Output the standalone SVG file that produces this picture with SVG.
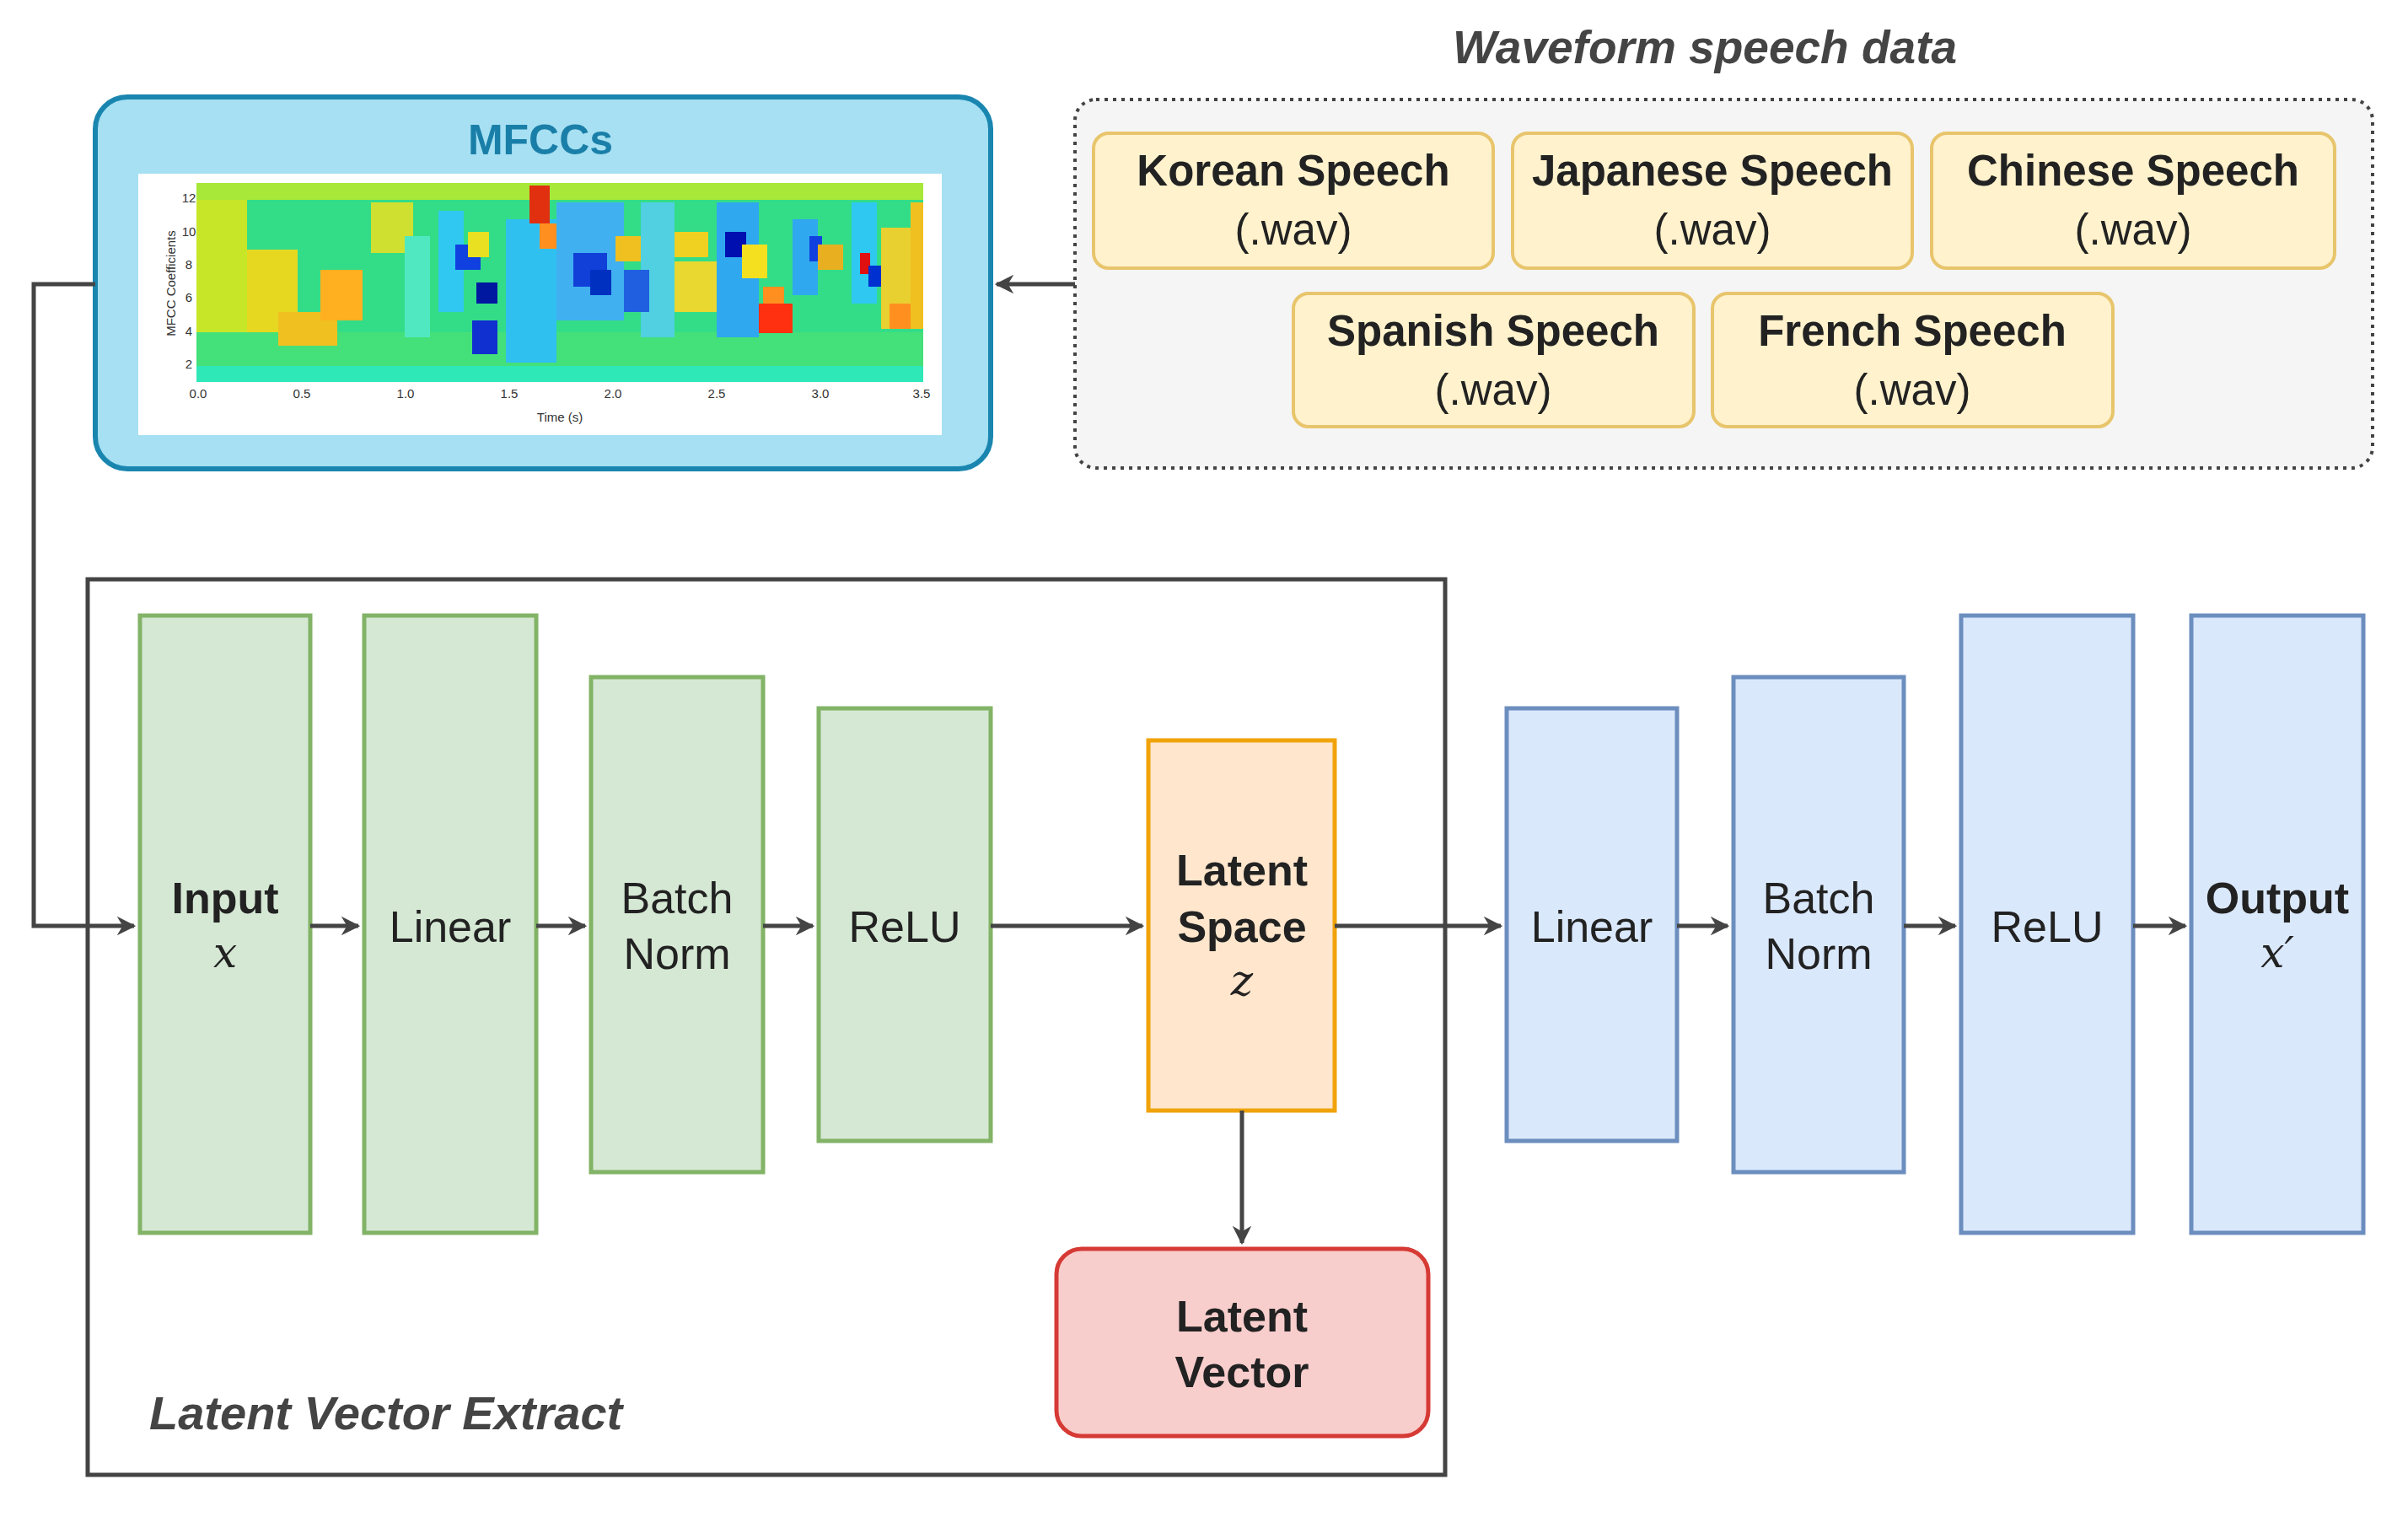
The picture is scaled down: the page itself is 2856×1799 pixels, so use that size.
<svg xmlns="http://www.w3.org/2000/svg" width="2856" height="1799" viewBox="0 0 2856 1799">
<style>
.t{font-family:"Liberation Sans",Arial,sans-serif;fill:#222;text-anchor:middle}
.b{font-weight:bold}
.y{fill:#fff2cc;stroke:#e8c56c;stroke-width:4}
.g{fill:#d5e8d4;stroke:#82b366;stroke-width:5}
.bl{fill:#dae8fc;stroke:#6c8ebf;stroke-width:5}
.m{font-family:"DejaVu Serif","Liberation Serif",serif;font-style:italic;fill:#222;text-anchor:middle}
.c{fill:none;stroke:#444;stroke-width:5}
.s{font-family:"Liberation Sans",Arial,sans-serif;fill:#333;font-size:15px;text-anchor:middle}
</style>
<defs><marker id="a" viewBox="0 0 10 10" refX="9" refY="5" markerWidth="4.5" markerHeight="4.5" orient="auto" markerUnits="strokeWidth"><path d="M0,0L10,5L0,10L3,5z" fill="#444"/></marker></defs>
<rect width="2856" height="1799" fill="#fff"/>
<g id="waveform">
<rect x="1275" y="118" width="1539" height="437" rx="25" fill="#f5f5f5" stroke="#444" stroke-width="4" stroke-dasharray="4 6"/>
<text x="2022" y="75" class="t" style="font-size:55px;font-weight:bold;font-style:italic;fill:#444">Waveform speech data</text>
</g>
<g id="korean"><rect class="y" x="1297" y="158" width="474" height="160" rx="18"/><text class="t" x="1534" y="220" font-size="51"><tspan class="b">Korean Speech</tspan><tspan x="1534" y="290">(.wav)</tspan></text></g>
<g id="japanese"><rect class="y" x="1794" y="158" width="474" height="160" rx="18"/><text class="t" x="2031" y="220" font-size="51"><tspan class="b">Japanese Speech</tspan><tspan x="2031" y="290">(.wav)</tspan></text></g>
<g id="chinese"><rect class="y" x="2291" y="158" width="478" height="160" rx="18"/><text class="t" x="2530" y="220" font-size="51"><tspan class="b">Chinese Speech</tspan><tspan x="2530" y="290">(.wav)</tspan></text></g>
<g id="spanish"><rect class="y" x="1534" y="348" width="475" height="158" rx="18"/><text class="t" x="1771" y="410" font-size="51"><tspan class="b">Spanish Speech</tspan><tspan x="1771" y="480">(.wav)</tspan></text></g>
<g id="french"><rect class="y" x="2031" y="348" width="475" height="158" rx="18"/><text class="t" x="2268" y="410" font-size="51"><tspan class="b">French Speech</tspan><tspan x="2268" y="480">(.wav)</tspan></text></g>
<g id="mfcc">
<rect x="113" y="115" width="1062" height="441" rx="38" fill="#a6e0f2" stroke="#1a86b0" stroke-width="6"/>
<text class="t b" x="641" y="183" font-size="50" style="fill:#1a7fa8">MFCCs</text>
<rect x="164" y="206" width="953" height="310" fill="#fff"/>
<rect x="233" y="217" width="862" height="236" fill="#33dd88"/>
<g>
<rect x="233" y="217" width="862" height="20" fill="#a8e838"/>
<rect x="233" y="394" width="862" height="40" fill="#44e07a"/>
<rect x="233" y="434" width="862" height="19" fill="#2ee8b8"/>
<rect x="233" y="237" width="60" height="157" fill="#c8e628"/>
<rect x="293" y="296" width="60" height="98" fill="#e6d820"/>
<rect x="330" y="370" width="70" height="40" fill="#f0c020"/>
<rect x="380" y="320" width="50" height="60" fill="#ffb020"/>
<rect x="440" y="240" width="50" height="60" fill="#d0e030"/>
<rect x="480" y="280" width="30" height="120" fill="#50e8c0"/>
<rect x="520" y="250" width="30" height="120" fill="#30c8f0"/>
<rect x="540" y="290" width="30" height="30" fill="#1040e0"/>
<rect x="560" y="380" width="30" height="40" fill="#1030d0"/>
<rect x="565" y="335" width="25" height="25" fill="#0018a0"/>
<rect x="600" y="300" width="20" height="40" fill="#ff8020"/>
<rect x="555" y="275" width="25" height="30" fill="#e8e020"/>
<rect x="600" y="260" width="60" height="170" fill="#30c0f0"/>
<rect x="628" y="220" width="24" height="45" fill="#e03010"/>
<rect x="640" y="265" width="20" height="30" fill="#ff9020"/>
<rect x="660" y="240" width="80" height="140" fill="#40b0f0"/>
<rect x="680" y="300" width="40" height="40" fill="#1040d8"/>
<rect x="700" y="320" width="25" height="30" fill="#0030c0"/>
<rect x="730" y="280" width="30" height="30" fill="#f0c020"/>
<rect x="760" y="240" width="40" height="160" fill="#50d0e0"/>
<rect x="740" y="320" width="30" height="50" fill="#2060e0"/>
<rect x="800" y="275" width="40" height="30" fill="#f0d020"/>
<rect x="800" y="310" width="50" height="60" fill="#e8d830"/>
<rect x="850" y="240" width="50" height="160" fill="#30a8f0"/>
<rect x="860" y="275" width="25" height="30" fill="#0010b0"/>
<rect x="880" y="290" width="30" height="40" fill="#f5e020"/>
<rect x="905" y="340" width="25" height="30" fill="#ff9020"/>
<rect x="900" y="360" width="40" height="35" fill="#ff3010"/>
<rect x="940" y="260" width="30" height="90" fill="#30a8f0"/>
<rect x="960" y="280" width="15" height="30" fill="#1040e0"/>
<rect x="970" y="290" width="30" height="30" fill="#e8b020"/>
<rect x="1010" y="240" width="30" height="120" fill="#2ec8f0"/>
<rect x="1020" y="300" width="12" height="25" fill="#e01010"/>
<rect x="1030" y="315" width="15" height="25" fill="#0030d0"/>
<rect x="1045" y="270" width="35" height="120" fill="#e8d030"/>
<rect x="1055" y="360" width="30" height="30" fill="#ff9020"/>
<rect x="1080" y="240" width="15" height="150" fill="#f0c020"/>
</g>
<text class="s" x="208" y="336" transform="rotate(-90 208 336)" font-size="17">MFCC Coefficients</text>
<text class="s" x="224" y="240">12</text><text class="s" x="224" y="280">10</text><text class="s" x="224" y="319">8</text><text class="s" x="224" y="358">6</text><text class="s" x="224" y="398">4</text><text class="s" x="224" y="437">2</text>
<text class="s" x="235" y="472">0.0</text><text class="s" x="358" y="472">0.5</text><text class="s" x="481" y="472">1.0</text><text class="s" x="604" y="472">1.5</text><text class="s" x="727" y="472">2.0</text><text class="s" x="850" y="472">2.5</text><text class="s" x="973" y="472">3.0</text><text class="s" x="1093" y="472">3.5</text>
<text class="s" x="664" y="500" font-size="24">Time (s)</text>
</g>
<g id="extract-box"><rect x="104" y="687" width="1610" height="1062" fill="none" stroke="#444" stroke-width="5"/>
<text class="t" x="177" y="1695" font-size="56" style="text-anchor:start;font-weight:bold;font-style:italic;fill:#444">Latent Vector Extract</text></g>
<g id="input"><rect class="g" x="166" y="730" width="202" height="732"/><text class="t b" x="267" y="1083" font-size="52">Input</text><text class="m" x="267" y="1147" font-size="50">x</text></g>
<g id="linear1"><rect class="g" x="432" y="730" width="204" height="732"/><text class="t" x="534" y="1117" font-size="52">Linear</text></g>
<g id="bn1"><rect class="g" x="701" y="803" width="204" height="587"/><text class="t" x="803" y="1083" font-size="52">Batch<tspan x="803" y="1149">Norm</tspan></text></g>
<g id="relu1"><rect class="g" x="971" y="840" width="204" height="513"/><text class="t" x="1073" y="1117" font-size="52">ReLU</text></g>
<g id="latent-space"><rect x="1362" y="878" width="221" height="439" fill="#ffe6cc" stroke="#f0a30a" stroke-width="5"/><text class="t b" x="1473" y="1050" font-size="52">Latent<tspan x="1473" y="1117">Space</tspan></text><text class="m" x="1473" y="1180" font-size="50">z</text></g>
<g id="latent-vector"><rect x="1253" y="1481" width="441" height="222" rx="30" fill="#f8cecc" stroke="#d63a35" stroke-width="5"/><text class="t b" x="1473" y="1579" font-size="52">Latent<tspan x="1473" y="1645">Vector</tspan></text></g>
<g id="linear2"><rect class="bl" x="1787" y="840" width="202" height="513"/><text class="t" x="1888" y="1117" font-size="52">Linear</text></g>
<g id="bn2"><rect class="bl" x="2056" y="803" width="202" height="587"/><text class="t" x="2157" y="1083" font-size="52">Batch<tspan x="2157" y="1149">Norm</tspan></text></g>
<g id="relu2"><rect class="bl" x="2326" y="730" width="204" height="732"/><text class="t" x="2428" y="1117" font-size="52">ReLU</text></g>
<g id="output"><rect class="bl" x="2599" y="730" width="204" height="732"/><text class="t b" x="2701" y="1083" font-size="52">Output</text><text class="m" x="2701" y="1147" font-size="50">x′</text></g>
<g id="connectors">
<path class="c" d="M1275,337H1182" marker-end="url(#a)"/>
<path class="c" d="M113,337H40V1098H159" marker-end="url(#a)"/>
<path class="c" d="M368,1098H425" marker-end="url(#a)"/>
<path class="c" d="M636,1098H694" marker-end="url(#a)"/>
<path class="c" d="M905,1098H964" marker-end="url(#a)"/>
<path class="c" d="M1175,1098H1355" marker-end="url(#a)"/>
<path class="c" d="M1583,1098H1780" marker-end="url(#a)"/>
<path class="c" d="M1989,1098H2049" marker-end="url(#a)"/>
<path class="c" d="M2258,1098H2319" marker-end="url(#a)"/>
<path class="c" d="M2530,1098H2592" marker-end="url(#a)"/>
<path class="c" d="M1473,1317V1474" marker-end="url(#a)"/>
</g>
</svg>
